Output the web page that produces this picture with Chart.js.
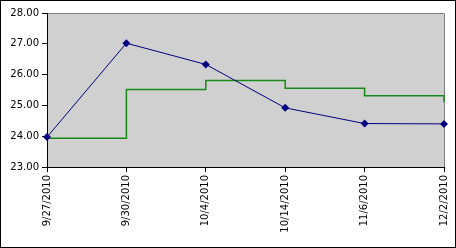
<!DOCTYPE html>
<html>
<head>
<meta charset="utf-8">
<script src="https://cdn.jsdelivr.net/npm/chart.js@4/dist/chart.umd.min.js"></script>
<style>
	html, body { margin: 0; padding: 0; background: #fff; }
	#wrap { width: 456px; height: 248px; box-sizing: border-box; border: 1px solid #000; }
	#lineChart { display: block; }
</style>
</head>
<body>
<div id="wrap"><canvas id="lineChart" width="454" height="246"></canvas></div>
<script>
const dates = ['9/27/2010', '9/30/2010', '10/4/2010', '10/14/2010', '11/6/2010', '12/2/2010'];
const blueValues = [23.97, 27.02, 26.33, 24.92, 24.41, 24.40];
const greenValues = [23.93, 25.52, 25.81, 25.56, 25.31, 25.10];
const yTicks = [23, 24, 25, 26, 27, 28];

// gray plot area with a thin gray frame on top/right
const plotBackground = {
	id: 'plotBackground',
	beforeDraw: (chart) => {
		const { ctx, chartArea } = chart;
		ctx.save();
		ctx.fillStyle = '#d0d0d0';
		ctx.fillRect(chartArea.left, chartArea.top, chartArea.right - chartArea.left, chartArea.bottom - chartArea.top);
		ctx.strokeStyle = '#808080';
		ctx.lineWidth = 1;
		ctx.beginPath();
		ctx.moveTo(chartArea.left, chartArea.top + 0.5);
		ctx.lineTo(chartArea.right + 0.5, chartArea.top + 0.5);
		ctx.lineTo(chartArea.right + 0.5, chartArea.bottom);
		ctx.stroke();
		ctx.restore();
	},
};

const dataLine = {
	labels: dates,
	datasets: [
		{
			label: 'Series 1',
			data: blueValues,
			borderColor: '#000080',
			backgroundColor: '#000080',
			borderWidth: 1,
			pointStyle: 'rectRot',
			pointRadius: 4,
			pointBorderWidth: 0,
			tension: 0,
			clip: false,
			order: 1,
		},
		{
			label: 'Series 2',
			data: greenValues,
			borderColor: '#168a16',
			borderWidth: 1.5,
			pointRadius: 0,
			stepped: 'before',
			clip: false,
			order: 2,
		},
	],
};

const config = {
	type: 'line',
	data: dataLine,
	plugins: [plotBackground],
	options: {
		responsive: false,
		animation: false,
		layout: { padding: { top: 12, right: 11, left: 0, bottom: 0 } },
		plugins: { legend: { display: false }, tooltip: { enabled: false } },
		scales: {
			x: {
				offset: false,
				afterFit: (scale) => {
					scale.height = 80;
					scale.paddingLeft = 0;
					scale.paddingRight = 0;
				},
				grid: { drawOnChartArea: false, drawTicks: true, tickLength: 5, color: '#000' },
				border: { color: '#000', width: 1 },
				ticks: {
					minRotation: 90,
					maxRotation: 90,
					autoSkip: false,
					padding: 3,
					color: '#000',
					font: { family: 'DejaVu Sans', size: 10 },
				},
			},
			y: {
				min: yTicks[0],
				max: yTicks[yTicks.length - 1],
				afterFit: (scale) => { scale.width = 46; },
				afterBuildTicks: (scale) => { scale.ticks = yTicks.map((v) => ({ value: v })); },
				grid: { drawOnChartArea: false, drawTicks: true, tickLength: 5, color: '#000' },
				border: { color: '#000', width: 1 },
				ticks: {
					padding: 3,
					color: '#000',
					font: { family: 'DejaVu Sans', size: 10 },
					callback: (v) => Number(v).toFixed(2),
				},
			},
		},
	},
};

const ctx = document.getElementById('lineChart').getContext('2d');
const myChart = new Chart(ctx, config);
</script>
</body>
</html>
